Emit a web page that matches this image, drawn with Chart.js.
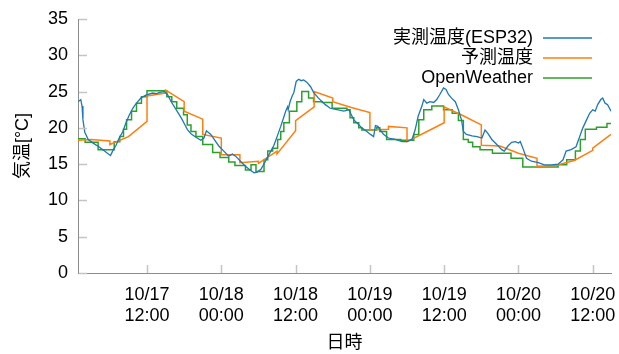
<!DOCTYPE html>
<html>
<head>
<meta charset="utf-8">
<script src="https://cdn.jsdelivr.net/npm/chart.js@4/dist/chart.umd.min.js"></script>
<style>
  html, body { margin: 0; padding: 0; background: #fff; }
  #wrap { width: 619px; height: 354px; }
</style>
</head>
<body>
<div id="wrap"><canvas id="c" width="619" height="354"></canvas></div>
<script>
// Time axis: hours since 10/17 00:00
const esp32Hours = [0.85, 1.3, 1.5, 1.65, 1.95, 2.5, 3.3, 4.2, 5.0, 5.6, 6.1, 6.5, 7.0, 7.5, 8.1, 8.6, 9.1, 9.7, 10.2, 11.0,
  11.8, 12.9, 13.5, 14.0, 14.8, 15.3, 15.9, 16.7, 17.5, 18.2, 18.5, 19.1, 19.9, 20.7, 21.2, 21.6, 22.3, 23.1, 23.6, 24.4,
  25.2, 25.8, 26.3, 27.1, 27.9, 28.8, 29.3, 29.8, 30.4, 31.2, 32.0, 32.5, 33.1, 33.6, 34.1, 34.4, 34.7, 34.8, 35.1, 35.5,
  35.7, 36.1, 36.5, 36.9, 37.3, 37.8, 38.4, 38.9, 39.7, 40.8, 41.6, 42.7, 43.8, 44.6, 45.0, 45.4, 45.9, 46.7, 47.5, 48.1,
  48.6, 48.9, 49.3, 49.7, 50.2, 51.0, 52.1, 53.2, 54.0, 54.8, 55.3, 55.8, 56.4, 56.7, 57.2, 57.7, 58.3, 58.8, 59.3, 59.9,
  60.3, 60.7, 61.2, 61.8, 62.3, 62.8, 63.1, 63.6, 64.5, 65.3, 66.1, 66.6, 67.0, 67.7, 68.5, 69.3, 69.7, 70.3, 70.9, 71.5,
  72.0, 72.3, 72.8, 73.3, 74.1, 75.2, 76.2, 77.3, 78.4, 79.2, 79.7, 80.5, 81.3, 81.9, 82.4, 83.0, 83.5, 84.0, 84.4, 84.8,
  85.3, 85.6, 86.0, 86.4, 86.95];
const esp32Temps = [23.6, 23.9, 23.0, 21.1, 19.4, 18.4, 17.9, 17.4, 16.9, 16.5, 16.2, 16.9, 17.6, 18.6, 19.5, 20.7, 21.7, 22.7, 23.3, 24.1,
  24.5, 24.8, 24.7, 24.9, 25.0, 24.6, 23.6, 22.5, 21.4, 20.3, 19.8, 19.2, 18.7, 18.3, 18.6, 19.6, 19.1, 18.1, 17.5, 16.8,
  16.1, 16.4, 16.1, 15.4, 14.7, 14.1, 13.8, 13.9, 14.3, 15.5, 16.8, 17.6, 19.0, 20.2, 21.5, 22.3, 22.9, 22.5, 23.6, 24.5,
  24.8, 26.4, 26.7, 26.5, 26.6, 26.3, 25.7, 24.9, 24.1, 23.2, 22.7, 22.5, 22.3, 22.5, 21.8, 21.1, 20.7, 20.0, 19.5, 19.1,
  18.8, 20.3, 20.2, 19.7, 19.1, 18.6, 18.4, 18.1, 18.1, 18.4, 19.7, 21.6, 23.0, 23.9, 23.4, 23.6, 23.5, 23.9, 24.6, 25.5,
  25.3, 24.6, 24.1, 23.6, 22.5, 21.1, 19.5, 19.1, 18.9, 18.8, 18.6, 19.7, 19.3, 18.4, 17.7, 17.0, 16.8, 17.5, 18.0, 18.1,
  17.9, 18.1, 17.0, 15.8, 15.4, 15.2, 14.9, 14.9, 15.0, 15.6, 16.8, 17.0, 17.4, 18.8, 20.0, 21.1, 22.0, 22.5, 22.3, 23.2,
  23.9, 24.1, 23.4, 23.2, 22.3];

// Forecast: repeated hours mark the jumps where a new forecast took over
const forecastHours = [0.85, 3, 6, 6, 9, 12, 12, 15, 15, 18, 18, 21, 21, 24, 24, 27, 27, 30, 30, 33, 33, 36, 36, 39, 39,
  42, 42, 45, 48, 48, 51, 51, 54, 54, 57, 60, 60, 63, 66, 66, 69, 72, 75, 75, 78, 81, 84, 84, 86.95];
const forecastTemps = [18.3, 18.4, 18.2, 17.7, 18.8, 20.9, 24.4, 24.8, 25.2, 23.6, 22.3, 21.2, 19.1, 18.6, 16.3, 16.3, 15.2, 15.4, 15.1, 16.8,
  16.4, 19.6, 21.0, 22.9, 25.0, 24.1, 23.6, 22.8, 22.1, 19.7, 19.8, 20.2, 20.0, 18.1, 19.4, 20.7, 22.9, 21.7, 20.4, 17.6,
  17.5, 16.5, 15.8, 14.7, 14.8, 15.5, 16.9, 17.2, 19.1];

// OpenWeather: each value holds until the next reading
const owHours = [0.85, 2.0, 4.1, 6.7, 7.6, 8.2, 8.7, 9.5, 10.3, 11.1, 12.0, 15.2, 16.0, 16.8, 17.9, 18.5, 19.1, 19.9, 21.0, 22.6,
  23.8, 25.2, 26.2, 27.9, 28.8, 29.6, 30.9, 31.5, 32.3, 33.1, 33.6, 34.1, 35.0, 36.2, 37.0, 38.1, 38.9, 40.3, 41.9, 44.3,
  44.8, 45.4, 46.2, 46.7, 49.1, 49.6, 50.7, 53.0, 55.1, 55.9, 56.7, 58.0, 59.9, 61.3, 62.3, 63.1, 63.9, 64.6, 65.8, 67.8,
  70.8, 72.7, 78.4, 79.8, 81.2, 82.0, 82.8, 84.6, 86.3, 86.95];
const owTemps = [18.5, 18.0, 17.0, 18.1, 18.8, 19.8, 21.1, 22.3, 23.4, 24.3, 25.1, 24.3, 23.6, 22.7, 21.8, 20.4, 19.5, 18.8, 17.7, 16.6,
  15.9, 15.3, 14.8, 14.2, 14.9, 14.0, 15.6, 16.8, 17.2, 18.4, 19.5, 20.7, 22.3, 23.6, 25.0, 24.1, 23.6, 23.5, 22.7, 22.5,
  21.4, 20.7, 20.0, 19.7, 20.0, 19.5, 18.4, 18.3, 19.1, 21.1, 22.5, 23.0, 22.5, 22.0, 21.0, 18.4, 18.0, 17.4, 17.0, 16.5,
  15.8, 14.6, 14.9, 15.6, 16.8, 18.4, 19.8, 20.1, 20.6, 20.6];

const tickHours = [12, 24, 36, 48, 60, 72, 84];
const tickLabels = [["10/17", "12:00"], ["10/18", "00:00"], ["10/18", "12:00"], ["10/19", "00:00"],
  ["10/19", "12:00"], ["10/20", "00:00"], ["10/20", "12:00"]];

const seriesNames = ["実測温度(ESP32)", "予測温度", "OpenWeather"];
const seriesColors = ["#1f77b4", "#ff7f0e", "#2ca02c"];

const FONT_FAMILY = "'Liberation Sans', 'Noto Sans CJK JP', sans-serif";
const toPoints = (xs, ys) => xs.map((x, i) => ({ x: x, y: ys[i] }));

// Short tick marks pointing into the plot area
const inwardTicks = {
  id: 'inwardTicks',
  afterDraw(chart) {
    const ctx = chart.ctx;
    const area = chart.chartArea;
    const len = 8;
    ctx.save();
    ctx.strokeStyle = '#c4c4c4';
    ctx.lineWidth = 1.5;
    const xs = chart.scales.x;
    xs.ticks.forEach(t => {
      const px = Math.round(xs.getPixelForValue(t.value)) + 0.5;
      ctx.beginPath();
      ctx.moveTo(px, area.bottom);
      ctx.lineTo(px, area.bottom - len);
      ctx.stroke();
    });
    const ys = chart.scales.y;
    ys.ticks.forEach(t => {
      const py = Math.round(ys.getPixelForValue(t.value)) + 0.5;
      ctx.beginPath();
      ctx.moveTo(area.left + 1, py);
      ctx.lineTo(area.left + 1 + len, py);
      ctx.stroke();
    });
    ctx.restore();
  }
};

// Legend with right-aligned labels followed by the line sample
const sideLegend = {
  id: 'sideLegend',
  afterDraw(chart) {
    const ctx = chart.ctx;
    const textRight = 533;
    const lineStart = 543, lineEnd = 592;
    const rowY = [38, 58, 78];
    ctx.save();
    ctx.font = '18px ' + FONT_FAMILY;
    ctx.textAlign = 'right';
    ctx.textBaseline = 'middle';
    chart.data.datasets.forEach((ds, i) => {
      ctx.fillStyle = '#000';
      ctx.fillText(ds.label, textRight, rowY[i]);
      ctx.strokeStyle = ds.borderColor;
      ctx.lineWidth = 1.5;
      ctx.beginPath();
      ctx.moveTo(lineStart, rowY[i]);
      ctx.lineTo(lineEnd, rowY[i]);
      ctx.stroke();
    });
    ctx.restore();
  }
};

new Chart(document.getElementById('c'), {
  type: 'line',
  data: {
    datasets: [
      { label: seriesNames[0], data: toPoints(esp32Hours, esp32Temps), borderColor: seriesColors[0], borderWidth: 1.3 },
      { label: seriesNames[1], data: toPoints(forecastHours, forecastTemps), borderColor: seriesColors[1], borderWidth: 1.5 },
      { label: seriesNames[2], data: toPoints(owHours, owTemps), borderColor: seriesColors[2], borderWidth: 1.5, stepped: 'before' }
    ]
  },
  options: {
    responsive: false,
    animation: false,
    parsing: false,
    elements: { point: { radius: 0 }, line: { tension: 0, fill: false } },
    layout: { padding: { left: 0, right: 8, top: 19, bottom: 0 }, autoPadding: false },
    plugins: { legend: { display: false }, tooltip: { enabled: false } },
    scales: {
      x: {
        type: 'linear',
        min: esp32Hours[0],
        max: esp32Hours[esp32Hours.length - 1],
        afterBuildTicks: s => { s.ticks = tickHours.map(v => ({ value: v })); },
        afterFit: s => { s.height = 81; s.paddingLeft = 0; s.paddingRight = 0; },
        grid: { display: false, drawTicks: false },
        border: { display: true, color: '#8c8c8c', width: 1 },
        ticks: {
          autoSkip: false, maxRotation: 0, minRotation: 0, padding: 11,
          color: '#000',
          font: { size: 18, family: FONT_FAMILY, lineHeight: 1.18 },
          callback: v => tickLabels[tickHours.indexOf(v)]
        },
        title: { display: true, text: '日時', color: '#000', font: { size: 18, family: FONT_FAMILY }, padding: { top: 0, bottom: 0 } }
      },
      y: {
        min: 0, max: 35,
        afterFit: s => { s.width = 78; s.paddingTop = 0; s.paddingBottom = 0; },
        grid: { display: false, drawTicks: false },
        border: { display: true, color: '#8c8c8c', width: 1 },
        ticks: { stepSize: 5, padding: 10, color: '#000', font: { size: 18, family: FONT_FAMILY } },
        title: { display: true, text: '気温[°C]', color: '#000', font: { size: 18, family: FONT_FAMILY }, padding: { top: 12, bottom: 0 } }
      }
    }
  },
  plugins: [inwardTicks, sideLegend]
});
</script>
</body>
</html>
